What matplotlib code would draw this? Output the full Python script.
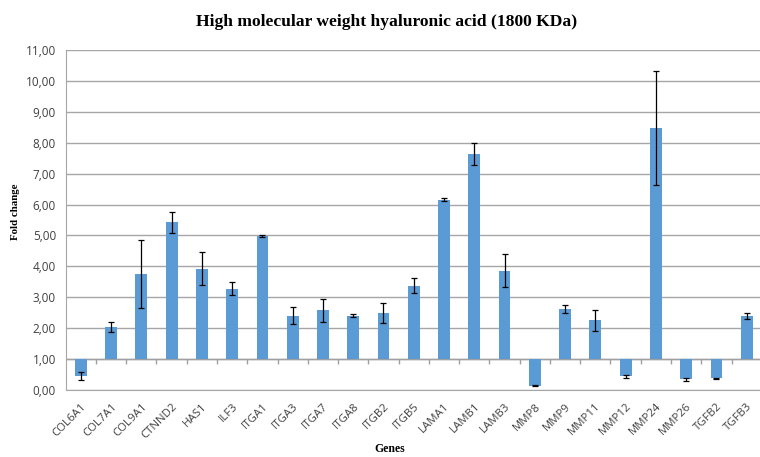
import matplotlib
matplotlib.use("Agg")
import matplotlib.pyplot as plt
import numpy as np
from matplotlib.ticker import FuncFormatter, MultipleLocator

genes = ["COL6A1", "COL7A1", "COL9A1", "CTNND2", "HAS1", "ILF3", "ITGA1", "ITGA3",
         "ITGA7", "ITGA8", "ITGB2", "ITGB5", "LAMA1", "LAMB1", "LAMB3", "MMP8",
         "MMP9", "MMP11", "MMP12", "MMP24", "MMP26", "TGFB2", "TGFB3"]
fold_change = [0.44, 2.05, 3.75, 5.42, 3.92, 3.27, 4.98, 2.40,
               2.58, 2.41, 2.50, 3.38, 6.15, 7.64, 3.86, 0.14,
               2.61, 2.26, 0.44, 8.48, 0.34, 0.38, 2.40]
errors = [0.13, 0.16, 1.10, 0.35, 0.53, 0.21, 0.02, 0.27,
          0.38, 0.06, 0.32, 0.25, 0.05, 0.35, 0.53, 0.02,
          0.13, 0.34, 0.05, 1.85, 0.04, 0.02, 0.09]
baseline = 1.0

fig = plt.figure(figsize=(7.6, 4.57), dpi=100)
ax = fig.add_axes([0.0864, 0.1466, 0.916, 0.744])

x = np.arange(len(genes))
heights = np.array(fold_change) - baseline
ax.bar(x, heights, bottom=baseline, width=0.39, color="#5b9bd5", zorder=3)
ax.errorbar(x, fold_change, yerr=errors, fmt="none", ecolor="black",
            elinewidth=0.9, capsize=2.4, capthick=0.9, zorder=4)

ax.set_xlim(-0.5, len(genes) - 0.5)
ax.set_ylim(0, 11)
ax.yaxis.set_major_locator(MultipleLocator(1))
ax.yaxis.set_major_formatter(FuncFormatter(lambda v, p: f"{v:.2f}".replace(".", ",")))
ax.grid(axis="y", color="#a6a6a6", linewidth=1, zorder=0)
ax.set_axisbelow(True)

for s in ["top", "right"]:
    ax.spines[s].set_visible(False)
ax.spines["left"].set_color("#a6a6a6")
ax.spines["bottom"].set_color("#a6a6a6")

# category axis drawn at baseline 1
ax.axhline(baseline, color="#a0a0a0", linewidth=1, zorder=2)
ax.vlines(np.arange(len(genes)) + 0.5, baseline - 0.16, baseline, color="#a0a0a0",
          linewidth=1, zorder=2)

ax.set_xticks(x)
ax.set_xticklabels(genes, rotation=45, ha="right", rotation_mode="anchor",
                   fontsize=8.2, color="#404040", family="Open Sans")
ax.tick_params(axis="x", length=0, pad=8)
ax.tick_params(axis="y", length=0, pad=7)
for lab in ax.get_yticklabels():
    lab.set_family("Open Sans")
    lab.set_fontsize(8.5)
    lab.set_color("#404040")

fig.text(0.508, 0.952, "High molecular weight hyaluronic acid (1800 KDa)",
         ha="center", va="center", fontsize=12.6, fontweight="bold",
         family="Liberation Serif")
fig.text(0.021, 0.536, "Fold change", rotation=90, ha="center", va="center",
         fontsize=7.8, fontweight="bold", family="Liberation Serif")
fig.text(0.513, 0.004, "Genes", ha="center", va="bottom",
         fontsize=8.5, fontweight="bold", family="Liberation Serif")

fig.savefig("out.png", dpi=100)
